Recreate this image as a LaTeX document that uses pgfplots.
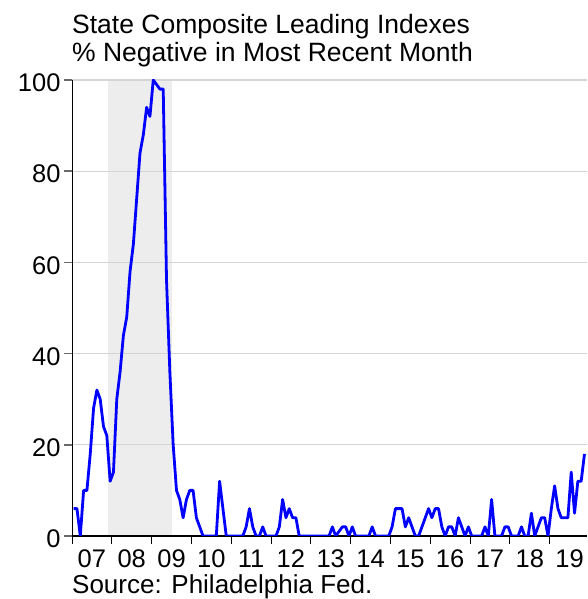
\documentclass[border=0pt]{standalone}
\usepackage{pgfplots}
\pgfplotsset{compat=1.18}
\usepackage{pgfplotstable}
\usepackage{fontspec}
\setmainfont{Liberation Sans}
\definecolor{rec}{RGB}{237,237,237}
\definecolor{gridc}{RGB}{212,212,212}
\definecolor{tickc}{RGB}{105,105,105}
\pgfplotstableread{
x y
0.5 6
1.5 6
2.5 0
3.5 10
4.5 10
5.5 18
6.5 28
7.5 32
8.5 30
9.5 24
10.5 22
11.5 12
12.5 14
13.5 30
14.5 36
15.5 44
16.5 48
17.5 58
18.5 64
19.5 74
20.5 84
21.5 88
22.5 94
23.5 92
24.5 100
25.5 99
26.5 98
27.5 98
28.5 56
29.5 36
30.5 20
31.5 10
32.5 8
33.5 4
34.5 8
35.5 10
36.5 10
37.5 4
38.5 2
39.5 0
40.5 0
41.5 0
42.5 0
43.5 0
44.5 12
45.5 6
46.5 0
47.5 0
48.5 0
49.5 0
50.5 0
51.5 0
52.5 2
53.5 6
54.5 2
55.5 0
56.5 0
57.5 2
58.5 0
59.5 0
60.5 0
61.5 0
62.5 2
63.5 8
64.5 4
65.5 6
66.5 4
67.5 4
68.5 0
69.5 0
70.5 0
71.5 0
72.5 0
73.5 0
74.5 0
75.5 0
76.5 0
77.5 0
78.5 2
79.5 0
80.5 1
81.5 2
82.5 2
83.5 0
84.5 2
85.5 0
86.5 0
87.5 0
88.5 0
89.5 0
90.5 2
91.5 0
92.5 0
93.5 0
94.5 0
95.5 0
96.5 2
97.5 6
98.5 6
99.5 6
100.5 2
101.5 4
102.5 2
103.5 0
104.5 0
105.5 2
106.5 4
107.5 6
108.5 4
109.5 6
110.5 6
111.5 2
112.5 0
113.5 2
114.5 2
115.5 0
116.5 4
117.5 2
118.5 0
119.5 2
120.5 0
121.5 0
122.5 0
123.5 0
124.5 2
125.5 0
126.5 8
127.5 0
128.5 0
129.5 0
130.5 2
131.5 2
132.5 0
133.5 0
134.5 0
135.5 2
136.5 0
137.5 0
138.5 5
139.5 0
140.5 2
141.5 4
142.5 4
143.5 0
144.5 6
145.5 11
146.5 6
147.5 4
148.5 4
149.5 4
150.5 14
151.5 5
152.5 12
153.5 12
154.5 18
}\lineidx
\begin{document}
\begin{tikzpicture}
\begin{axis}[
  at={(72pt,63pt)}, anchor=south west,
  scale only axis, width=515pt, height=456pt,
  set layers,
  xmin=0, xmax=155.26, ymin=0, ymax=100,
  axis x line*=bottom, axis y line*=left,
  axis line style={-},
  x axis line style={black, line width=1.4pt},
  y axis line style={black, line width=1pt},
  clip=true,
  ytick={0,20,40,60,80,100},
  ymajorgrids,
  major grid style={gridc, line width=1.2pt},
  xtick={6,18,...,150},
  xticklabels={07,08,09,10,11,12,13,14,15,16,17,18,19},
  minor xtick={0,12,...,156},
  major x tick style={draw=none},
  minor x tick style={black, line width=1pt},
  major y tick style={tickc, line width=1.5pt},
  tick align=outside,
  major tick length=8pt,
  minor tick length=8pt,
  /pgf/number format/assume math mode=true,
  tick label style={font=\fontsize{25.5}{28}\selectfont},
  yticklabel style={yshift=-3pt},
  xticklabel style={anchor=base, yshift=-24pt},
]
\addplot[fill=rec, draw=none, on layer=axis background] coordinates {(11,100) (30,100)} \closedcycle;
\addplot[color={rgb,255:red,0;green,0;blue,255}, line width=2.8pt, line join=round] table[x=x,y=y] {\lineidx};
\end{axis}
\node[anchor=base west, inner sep=0pt, font=\fontsize{26.5}{30}\selectfont] at (72pt,565.5pt) {State Composite Leading Indexes};
\node[anchor=base west, inner sep=0pt, font=\fontsize{26.5}{30}\selectfont] at (72pt,537.5pt) {\% Negative in Most Recent Month};
\node[anchor=base west, inner sep=0pt, font=\fontsize{26}{30}\selectfont] at (72pt,5.5pt) {Source: Philadelphia Fed.};
\pgfresetboundingbox
\useasboundingbox (0,0) rectangle (587pt,599pt);
\end{tikzpicture}
\end{document}
